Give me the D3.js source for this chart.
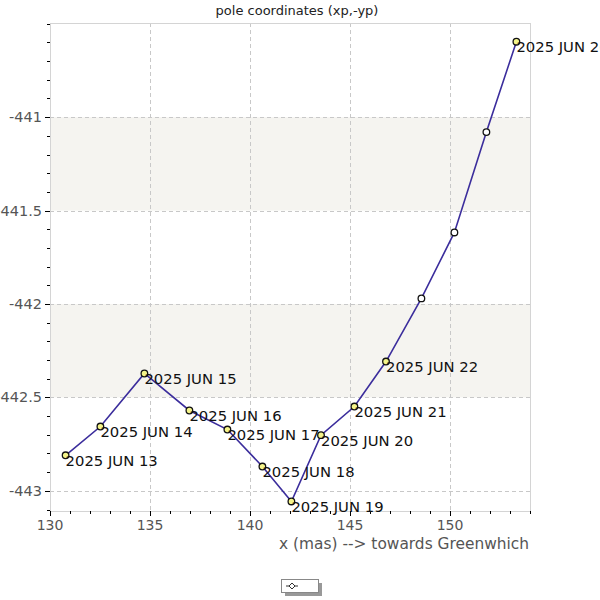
<!DOCTYPE html>
<html><head><meta charset="utf-8">
<script src="https://cdn.jsdelivr.net/npm/d3@7"></script>
<style>body{margin:0;background:#fff;} svg{display:block;font-family:"DejaVu Sans",sans-serif;}</style>
</head><body>
<svg id="c" width="600" height="600"></svg>
<script>
const labels = ["2025 JUN 13","2025 JUN 14","2025 JUN 15","2025 JUN 16","2025 JUN 17","2025 JUN 18","2025 JUN 19","2025 JUN 20","2025 JUN 21","2025 JUN 22","","","","2025 JUN 26"];
const xValues = [130.78,132.52,134.72,136.97,138.87,140.62,142.07,143.55,145.22,146.80,148.57,150.22,151.82,153.32];
const yValues = [-442.81,-442.656,-442.372,-442.57,-442.672,-442.87,-443.057,-442.702,-442.549,-442.308,-441.97,-441.617,-441.08,-440.596];
const filled = [1,1,1,1,1,1,1,1,1,1,0,0,0,1];
const xTicks = [130,135,140,145,150];
const yTicks = [-441,-441.5,-442,-442.5,-443];
const bands = [[-441,-441.5],[-442,-442.5]];

const svg = d3.select("#c");
const L=50,R=530,T=23,B=511;
const x = d3.scaleLinear().domain([130,154]).range([L,R]);
const y = d3.scaleLinear().domain([-443.108,-440.496]).range([B,T]);

// bands
svg.selectAll("rect.band").data(bands).join("rect")
  .attr("x",L).attr("width",R-L)
  .attr("y",d=>y(d[0])).attr("height",d=>y(d[1])-y(d[0]))
  .attr("fill","#f5f4f0");

// grid
svg.selectAll("line.gx").data(xTicks.slice(1)).join("line")
  .attr("x1",d=>x(d)+0.5).attr("x2",d=>x(d)+0.5).attr("y1",T).attr("y2",B)
  .attr("stroke","#c8c8c8").attr("stroke-dasharray","4,3");
svg.selectAll("line.gy").data(yTicks).join("line")
  .attr("y1",d=>Math.round(y(d))+0.5).attr("y2",d=>Math.round(y(d))+0.5).attr("x1",L).attr("x2",R)
  .attr("stroke","#c8c8c8").attr("stroke-dasharray","4,3");

// frame
svg.append("rect").attr("x",L+0.5).attr("y",T+0.5).attr("width",R-L).attr("height",B-T)
  .attr("fill","none").attr("stroke","#d4d4d4");

// x axis
const xMinor = d3.range(130,155,1);
svg.selectAll("line.xmt").data(xMinor).join("line")
  .attr("x1",d=>Math.round(x(d))+0.5).attr("x2",d=>Math.round(x(d))+0.5)
  .attr("y1",B).attr("y2",d=>xTicks.includes(d)?B+5:B+3).attr("stroke","#000");
svg.selectAll("text.xt").data(xTicks).join("text")
  .attr("x",d=>x(d)).attr("y",B+19).attr("text-anchor","middle")
  .attr("font-size",14).attr("fill","#555").text(d=>d);
svg.append("text").attr("x",R-1).attr("y",B+38).attr("text-anchor","end")
  .attr("font-size",15.4).attr("fill","#555").text("x (mas) --> towards Greenwhich");

// y axis
const yMinor = d3.range(-443.1,-440.49,0.1);
svg.selectAll("line.ymt").data(yMinor).join("line")
  .attr("y1",d=>Math.round(y(d))+0.5).attr("y2",d=>Math.round(y(d))+0.5)
  .attr("x1",L).attr("x2",d=>yTicks.some(t=>Math.abs(t-d)<1e-6)?L-5:L-3).attr("stroke","#000");
svg.selectAll("text.yt").data(yTicks).join("text")
  .attr("x",L-8).attr("y",d=>y(d)+5).attr("text-anchor","end")
  .attr("font-size",14.5).attr("fill","#555").text(d=>d);
svg.append("text").attr("transform","translate(-4,300) rotate(-90)").attr("text-anchor","middle")
  .attr("font-size",14).attr("fill","#555").text("y (mas)");

// title
svg.append("text").attr("x",297).attr("y",15).attr("text-anchor","middle")
  .attr("font-size",13).attr("fill","#222").text("pole coordinates (xp,-yp)");

// line
const pts = xValues.map((v,i)=>({x:v,y:yValues[i],label:labels[i],f:filled[i]}));
svg.append("path").datum(pts)
  .attr("d",d3.line().x(d=>x(d.x)).y(d=>y(d.y)))
  .attr("fill","none").attr("stroke","#3b2d9c").attr("stroke-width",1.6);

svg.selectAll("circle.pt").data(pts).join("circle")
  .attr("cx",d=>x(d.x)).attr("cy",d=>y(d.y)).attr("r",3.3)
  .attr("fill",d=>d.f?"#f4f48a":"#fff").attr("stroke","#111").attr("stroke-width",1.3);

svg.selectAll("text.lab").data(pts.filter(d=>d.label)).join("text")
  .attr("x",d=>x(d.x)).attr("y",d=>y(d.y)+10.5)
  .attr("font-size",14.8).attr("fill","#111").text(d=>d.label);

// legend
svg.append("rect").attr("x",285).attr("y",583).attr("width",37).attr("height",13).attr("fill","#999");
svg.append("rect").attr("x",281.5).attr("y",579.5).attr("width",37).attr("height",13).attr("fill","#fff").attr("stroke","#888");
svg.append("line").attr("x1",286).attr("x2",298).attr("y1",586).attr("y2",586).attr("stroke","#333");
svg.append("path").attr("d","M292,583 L295,586 L292,589 L289,586 Z").attr("fill","#fff").attr("stroke","#333");
</script>
</body></html>
